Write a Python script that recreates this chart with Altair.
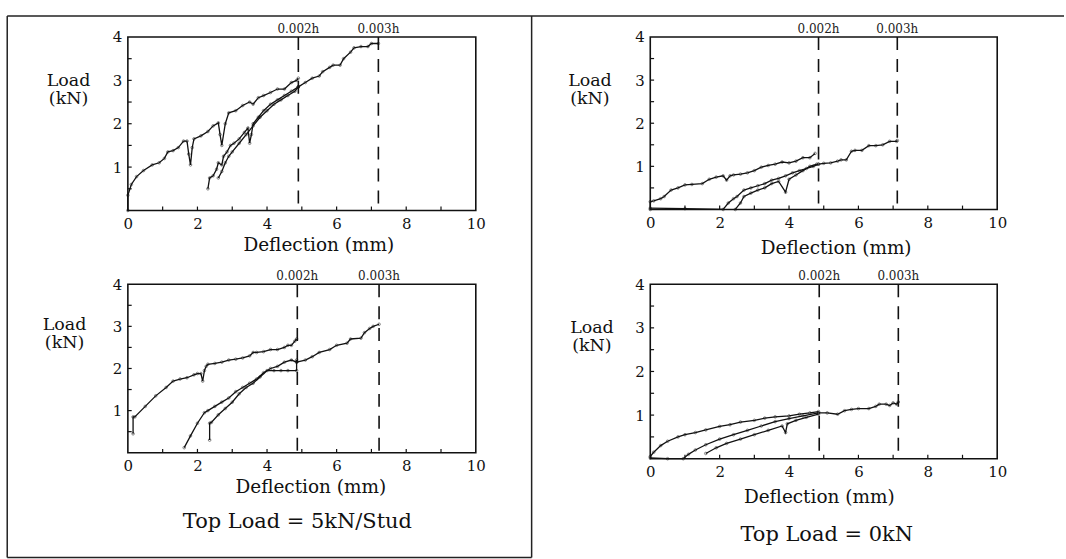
import altair as alt
import pandas as pd

# ---------------- data ----------------
# Panel 1: top-left (Top Load = 5kN/Stud, test 1)
p1_a_d = [0, 0, 0.1, 0.25, 0.45, 0.7, 0.9, 1.05, 1.15, 1.3, 1.45, 1.6, 1.7, 1.75, 1.8, 1.85, 1.9, 2.1, 2.3, 2.45, 2.6, 2.65, 2.7, 2.8, 2.9, 3.1, 3.3, 3.5, 3.6, 3.75, 3.9, 4.1, 4.3, 4.5, 4.7, 4.85, 4.9]
p1_a_L = [0.0, 0.35, 0.6, 0.78, 0.92, 1.05, 1.1, 1.2, 1.35, 1.38, 1.45, 1.6, 1.6, 1.3, 1.05, 1.45, 1.65, 1.72, 1.82, 1.95, 2.02, 1.75, 1.5, 2.0, 2.25, 2.3, 2.42, 2.5, 2.45, 2.6, 2.65, 2.72, 2.8, 2.8, 2.95, 3.0, 3.05]
p1_b_d = [2.3, 2.35, 2.45, 2.55, 2.6, 2.7, 2.75, 2.85, 2.95, 3.05, 3.2, 3.35, 3.45, 3.5, 3.55, 3.6, 3.75, 3.9, 4.1, 4.3, 4.5, 4.7, 4.9]
p1_b_L = [0.5, 0.75, 0.8, 0.95, 1.1, 1.05, 1.25, 1.35, 1.5, 1.55, 1.65, 1.8, 1.9, 1.55, 1.75, 2.0, 2.15, 2.3, 2.45, 2.55, 2.65, 2.75, 2.85]
p1_c_d = [2.6, 2.7, 2.8, 2.9, 3.0, 3.2, 3.4, 3.6, 3.8, 4.0, 4.2, 4.4, 4.6, 4.8, 4.9]
p1_c_L = [0.75, 0.9, 1.1, 1.25, 1.35, 1.55, 1.75, 1.95, 2.15, 2.3, 2.45, 2.55, 2.65, 2.75, 2.85]
p1_d_d = [4.9, 5.1, 5.3, 5.5, 5.6, 5.8, 5.9, 6.1, 6.2, 6.4, 6.5, 6.7, 6.9, 7.0, 7.2]
p1_d_L = [2.85, 2.95, 3.05, 3.1, 3.2, 3.3, 3.35, 3.35, 3.5, 3.65, 3.75, 3.78, 3.78, 3.85, 3.85]

# Panel 2: top-right (Top Load = 0kN, test 1)
p2_a_d = [0, 0, 0.1, 0.3, 0.4, 0.6, 0.8, 1.0, 1.2, 1.5, 1.7, 1.9, 2.1, 2.2, 2.3, 2.4, 2.6, 2.8, 3.0, 3.2, 3.4, 3.6, 3.8, 4.0, 4.2, 4.4, 4.6, 4.75]
p2_a_L = [0.0, 0.18, 0.2, 0.25, 0.3, 0.45, 0.5, 0.57, 0.58, 0.6, 0.7, 0.75, 0.78, 0.68, 0.78, 0.8, 0.82, 0.85, 0.9, 0.98, 1.02, 1.05, 1.1, 1.08, 1.12, 1.2, 1.2, 1.3]
p2_b_d = [0, 1.0, 2.1, 2.25, 2.4, 2.5, 2.7, 2.9, 3.1, 3.3, 3.5, 3.7, 3.9, 4.1, 4.3, 4.5, 4.7, 4.85]
p2_b_L = [0.03, 0.02, 0.0, 0.15, 0.25, 0.3, 0.45, 0.5, 0.55, 0.6, 0.68, 0.72, 0.78, 0.85, 0.9, 0.95, 1.0, 1.05]
p2_c_d = [2.45, 2.6, 2.7, 2.9, 3.1, 3.3, 3.5, 3.7, 3.9, 4.0, 4.2, 4.4, 4.6, 4.8]
p2_c_L = [0.0, 0.15, 0.3, 0.38, 0.45, 0.5, 0.6, 0.65, 0.4, 0.7, 0.8, 0.9, 1.0, 1.05]
p2_d_d = [4.85, 5.0, 5.2, 5.4, 5.5, 5.65, 5.8, 5.9, 6.1, 6.3, 6.5, 6.7, 6.9, 7.1, 7.12]
p2_d_L = [1.05, 1.07, 1.08, 1.12, 1.15, 1.15, 1.35, 1.37, 1.37, 1.48, 1.48, 1.5, 1.58, 1.58, 1.6]

# Panel 3: bottom-left (Top Load = 5kN/Stud, test 2)
p3_a_d = [0.15, 0.15, 0.2, 0.5, 0.8, 1.1, 1.3, 1.5, 1.7, 1.9, 2.0, 2.1, 2.15, 2.2, 2.25, 2.3, 2.5, 2.7, 2.9, 3.1, 3.3, 3.5, 3.6, 3.7, 3.9, 4.1, 4.3, 4.5, 4.6, 4.7, 4.8, 4.85]
p3_a_L = [0.45, 0.85, 0.85, 1.1, 1.35, 1.55, 1.7, 1.75, 1.78, 1.85, 1.88, 1.88, 1.7, 1.95, 2.05, 2.1, 2.12, 2.15, 2.2, 2.22, 2.25, 2.3, 2.38, 2.38, 2.4, 2.45, 2.45, 2.5, 2.55, 2.55, 2.65, 2.7]
p3_b_d = [1.62, 1.8, 2.0, 2.2, 2.3, 2.5, 2.7, 2.9, 3.1, 3.3, 3.5, 3.7, 3.9, 4.1, 4.3, 4.5, 4.7, 4.85]
p3_b_L = [0.12, 0.4, 0.7, 0.95, 1.0, 1.1, 1.2, 1.3, 1.45, 1.55, 1.65, 1.75, 1.9, 2.0, 2.05, 2.15, 2.2, 2.15]
p3_c_d = [2.35, 2.35, 2.4, 2.6, 2.8, 3.0, 3.2, 3.4, 3.6, 3.8, 4.0, 4.2, 4.4, 4.6, 4.85, 4.85]
p3_c_L = [0.3, 0.7, 0.72, 0.9, 1.05, 1.2, 1.4, 1.55, 1.65, 1.8, 1.95, 1.95, 1.95, 1.95, 1.95, 2.2]
p3_d_d = [4.85, 5.1, 5.3, 5.5, 5.8, 6.0, 6.3, 6.4, 6.7, 6.8, 6.95, 7.05, 7.22]
p3_d_L = [2.15, 2.2, 2.28, 2.38, 2.45, 2.55, 2.6, 2.7, 2.72, 2.85, 2.95, 3.0, 3.05]

# Panel 4: bottom-right (Top Load = 0kN, test 2)
p4_a_d = [0, 0.1, 0.3, 0.5, 0.8, 1.0, 1.3, 1.6, 2.0, 2.3, 2.6, 3.0, 3.3, 3.6, 4.0, 4.3, 4.6, 4.85]
p4_a_L = [0.05, 0.15, 0.3, 0.4, 0.5, 0.55, 0.6, 0.66, 0.74, 0.78, 0.84, 0.88, 0.93, 0.96, 0.98, 1.02, 1.05, 1.08]
p4_b_d = [0, 0.5, 0.95, 1.1, 1.3, 1.6, 2.0, 2.4, 2.8, 3.2, 3.6, 4.0, 4.4, 4.85]
p4_b_L = [0.02, 0.0, 0.0, 0.1, 0.2, 0.32, 0.45, 0.55, 0.65, 0.75, 0.85, 0.92, 0.98, 1.05]
p4_c_d = [1.6, 1.9, 2.2, 2.6, 3.0, 3.4, 3.8, 3.9, 3.95, 4.2, 4.5, 4.85]
p4_c_L = [0.12, 0.25, 0.35, 0.45, 0.55, 0.65, 0.75, 0.6, 0.8, 0.88, 0.95, 1.02]
p4_d_d = [4.85, 5.1, 5.4, 5.6, 5.8, 6.0, 6.3, 6.5, 6.6, 6.8, 6.9, 7.0, 7.1, 7.15]
p4_d_L = [1.05, 1.05, 1.02, 1.1, 1.13, 1.15, 1.15, 1.2, 1.25, 1.25, 1.22, 1.28, 1.25, 1.3]

# drift limits (dashed lines) per panel
limit_labels = ["0.002h", "0.003h"]
p1_limits = [4.9, 7.2]
p2_limits = [4.85, 7.12]
p3_limits = [4.87, 7.22]
p4_limits = [4.87, 7.15]

x_tick_labels = [0, 2, 4, 6, 8, 10]
y_tick_labels = [1, 2, 3, 4]
x_minor = [1, 2, 3, 4, 5, 6, 7, 8, 9]
y_minor = [0.5, 1, 1.5, 2, 2.5, 3, 3.5]

captions = ["Top Load = 5kN/Stud", "Top Load = 0kN"]

# ---------------- helpers ----------------
SERIF = "DejaVu Serif"
INK = "#111111"


def series_frame(pairs):
    rows = []
    for sname, (ds, ls) in pairs.items():
        for i, (d, l) in enumerate(zip(ds, ls)):
            rows.append({"s": sname, "o": i, "d": d, "L": l})
    return pd.DataFrame(rows)


def panel(pairs, limits, w, h, load_xy, defl_xy, caption=None, caption_xy=None, frame=None):
    xs = alt.Scale(domain=[0, 10], nice=False, zero=False)
    ys = alt.Scale(domain=[0, 4], nice=False, zero=False)
    xaxis = alt.Axis(values=x_tick_labels, format="d", labelFont=SERIF, labelFontSize=15,
                     labelColor=INK, labelFlush=False, labelPadding=6, ticks=False,
                     domain=False, grid=False, title="Deflection (mm)", titleFont=SERIF,
                     titleFontSize=18.5, titleFontWeight="normal", titleColor=INK,
                     titleX=defl_xy[0], titleY=defl_xy[1], titleAlign="center",
                     titleBaseline="alphabetic", labelOverlap=False)
    yaxis = alt.Axis(values=y_tick_labels, format="d", labelFont=SERIF, labelFontSize=15,
                     labelColor=INK, labelFlush=False, labelPadding=6, ticks=False,
                     domain=False, grid=False, title=["Load", "(kN)"], titleFont=SERIF,
                     titleFontSize=17.5, titleFontWeight="normal", titleColor=INK,
                     titleAngle=0, titleX=load_xy[0], titleY=load_xy[1],
                     titleAlign="center", titleBaseline="alphabetic", titleLineHeight=18,
                     labelOverlap=False)
    X = alt.X("d:Q", scale=xs, axis=xaxis)
    Y = alt.Y("L:Q", scale=ys, axis=yaxis)

    df = series_frame(pairs)
    lines = alt.Chart(df).mark_line(color=INK, strokeWidth=1.3).encode(
        x=X, y=Y, detail="s:N", order="o:Q")
    pts = alt.Chart(df).mark_point(color=INK, size=7, filled=False, strokeWidth=0.7).encode(
        x=X, y=Y)

    lim = pd.DataFrame({"d": limits, "lab": limit_labels})
    dashes = alt.Chart(lim).mark_rule(color=INK, strokeWidth=1.6, strokeDash=[13, 9]).encode(x=X)
    dlabels = alt.Chart(lim).mark_text(font="DejaVu Serif", fontSize=12, color="#222222",
                                       baseline="alphabetic", align="center").encode(
        x=X, y=alt.value(-4), text="lab:N")

    xt = pd.DataFrame({"d": x_minor, "d2": x_minor, "L": [0.0] * len(x_minor),
                       "L2": [0.09] * len(x_minor)})
    yt = pd.DataFrame({"d": [0.0] * len(y_minor), "d2": [0.11] * len(y_minor),
                       "L": y_minor, "L2": y_minor})
    xticks = alt.Chart(xt).mark_rule(color=INK, strokeWidth=1.2).encode(
        x=X, x2="d2:Q", y=Y, y2="L2:Q")
    yticks = alt.Chart(yt).mark_rule(color=INK, strokeWidth=1.2).encode(
        x=X, x2="d2:Q", y=Y, y2="L2:Q")

    layers = [xticks, yticks, dashes, lines, pts, dlabels]
    if caption is not None:
        cap = alt.Chart(alt.Data(values=[{"t": caption}])).mark_text(
            font=SERIF, fontSize=21, color=INK, align="center", baseline="alphabetic").encode(
            x=alt.value(caption_xy[0]), y=alt.value(caption_xy[1]), text="t:N")
        layers.append(cap)
    if frame is not None:
        left, top, right, bottom, divider = frame
        one = alt.Data(values=[{"k": 1}])
        fr = dict(color="#222222", strokeWidth=1.5)
        layers += [
            alt.Chart(one).mark_rule(**fr).encode(x=alt.value(left), x2=alt.value(right), y=alt.value(top)),
            alt.Chart(one).mark_rule(**fr).encode(x=alt.value(left), y=alt.value(top), y2=alt.value(bottom)),
            alt.Chart(one).mark_rule(**fr).encode(x=alt.value(left), x2=alt.value(divider), y=alt.value(bottom)),
            alt.Chart(one).mark_rule(**fr).encode(x=alt.value(divider), y=alt.value(top), y2=alt.value(bottom)),
        ]
    return alt.layer(*layers).properties(width=w, height=h)


p1 = panel({"a": (p1_a_d, p1_a_L), "b": (p1_b_d, p1_b_L), "c": (p1_c_d, p1_c_L), "d": (p1_d_d, p1_d_L)},
           p1_limits, 349, 174, (-60, 49), (191, 40),
           frame=(-121, -21, 939, 522, 405))
p2 = panel({"a": (p2_a_d, p2_a_L), "b": (p2_b_d, p2_b_L), "c": (p2_c_d, p2_c_L), "d": (p2_d_d, p2_d_L)},
           p2_limits, 348, 173, (-61, 49), (186, 44))
p3 = panel({"a": (p3_a_d, p3_a_L), "b": (p3_b_d, p3_b_L), "c": (p3_c_d, p3_c_L), "d": (p3_d_d, p3_d_L)},
           p3_limits, 349, 169, (-64, 45), (183, 40),
           caption=captions[0], caption_xy=(170, 245))
p4 = panel({"a": (p4_a_d, p4_a_L), "b": (p4_b_d, p4_b_L), "c": (p4_c_d, p4_c_L), "d": (p4_d_d, p4_d_L)},
           p4_limits, 348, 175, (-59, 48), (169, 44),
           caption=captions[1], caption_xy=(177, 258))

chart = alt.concat(p1, p2, p3, p4, columns=2, spacing={"row": 74, "column": 175},
                   bounds="flush").properties(
    padding={"left": 5.25, "top": 13.25, "right": 0, "bottom": 0},
    background="white",
).configure_view(stroke=INK, strokeWidth=1.6)

chart.save("out.html", embed_options={"renderer": "svg", "actions": False})
